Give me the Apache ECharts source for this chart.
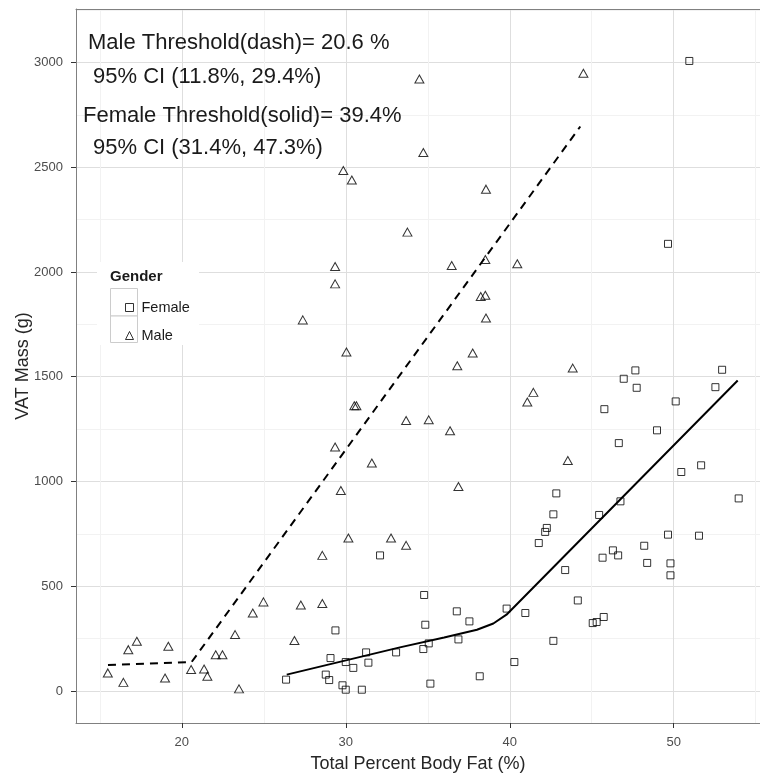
<!DOCTYPE html>
<html>
<head>
<meta charset="utf-8">
<script src="https://cdn.jsdelivr.net/npm/echarts@6.0.0/dist/echarts.min.js"></script>
<style>
  html, body { margin: 0; padding: 0; background: #fff; }
  #chart { width: 760px; height: 779px; }
</style>
</head>
<body>
<div id="chart"></div>
<script>
// body fat % vs VAT mass
const femalePoints = [
  [50.95, 3007], [49.65, 2134], [32.09, 647], [29.37, 289], [29.07, 157],
  [30.0, 138], [31.24, 184], [31.38, 135], [30.46, 110], [33.07, 184],
  [26.36, 54], [28.78, 78], [28.99, 52], [29.8, 27], [30.0, 6], [30.98, 6],
  [47.66, 1530], [52.95, 1533], [46.95, 1490], [47.74, 1447], [52.54, 1450],
  [50.12, 1382], [45.77, 1345], [48.98, 1244], [46.65, 1183], [51.67, 1077],
  [50.46, 1045], [53.96, 919], [42.84, 943], [46.75, 905], [42.66, 843],
  [45.45, 840], [42.26, 778], [42.16, 759], [41.77, 706], [49.65, 746],
  [51.54, 741], [48.2, 693], [46.29, 671], [46.61, 647], [45.66, 636],
  [48.38, 611], [49.8, 609], [49.8, 552], [43.38, 577], [34.78, 458],
  [44.15, 432], [39.81, 393], [36.77, 380], [40.95, 372], [37.54, 332],
  [34.85, 316], [45.73, 353], [45.3, 329], [45.06, 324], [36.87, 246],
  [35.06, 227], [34.73, 200], [42.66, 239], [40.28, 138], [38.17, 70],
  [35.16, 35]
];

const malePoints = [
  [34.49, 2921], [29.85, 2484], [30.37, 2439], [33.76, 2190], [29.35, 2026],
  [29.35, 1943], [27.38, 1771], [30.04, 1618], [34.73, 2570], [44.49, 2948],
  [38.55, 2395], [36.46, 2031], [38.51, 2059], [40.46, 2039], [38.23, 1883],
  [38.51, 1889], [38.55, 1780], [37.74, 1613], [30.52, 1361], [30.65, 1361],
  [33.68, 1291], [29.35, 1164], [31.59, 1088], [29.7, 957], [30.16, 730],
  [32.76, 730], [33.68, 695], [28.57, 647], [24.98, 425], [24.33, 372],
  [27.26, 410], [28.57, 417], [23.25, 269], [26.87, 241], [17.26, 237],
  [16.74, 197], [19.18, 213], [22.07, 173], [22.48, 173], [15.49, 86],
  [16.44, 41], [18.98, 62], [20.57, 102], [21.36, 105], [21.56, 70],
  [23.49, 10], [36.8, 1552], [43.84, 1541], [41.44, 1425], [41.07, 1379],
  [35.06, 1294], [36.36, 1242], [43.54, 1100], [36.87, 976]
];

// fitted threshold models
const maleFit = [[15.5, 124], [20.6, 138], [44.3, 2694]];
const femaleFit = [[26.4, 78], [33.3, 208], [36, 255], [38, 292], [39, 322], [39.8, 364], [53.9, 1482]];

const xTicks = [20, 30, 40, 50];
const xMinor = [15, 25, 35, 45, 55];
const yTicks = [0, 500, 1000, 1500, 2000, 2500, 3000];
const yMinor = [250, 750, 1250, 1750, 2250, 2750, 3250];

const notes = [
  'Male Threshold(dash)= 20.6 %',
  '95% CI (11.8%, 29.4%)',
  'Female Threshold(solid)= 39.4%',
  '95% CI (31.4%, 47.3%)'
];

const FONT = '"Liberation Sans", Arial, sans-serif';
const XMIN = 13.55, XMAX = 55.26, YMIN = -153, YMAX = 3255;

const hollow = { color: 'rgba(255,255,255,0)', borderColor: '#000', borderWidth: 1 };

const chart = echarts.init(document.getElementById('chart'), null, { renderer: 'canvas' });

const notePos = [[88, 43], [93, 77], [83, 116], [93, 148]];

chart.setOption({
  animation: false,
  textStyle: { fontFamily: FONT },
  grid: { left: 76, top: 9, right: 0, bottom: 56, containLabel: false, outerBoundsMode: 'none' },
  xAxis: [{
    type: 'value', min: XMIN, max: XMAX,
    name: 'Total Percent Body Fat (%)', nameLocation: 'middle', nameGap: 32,
    nameMoveOverlap: false,
    nameTextStyle: { fontSize: 18, color: '#262626', fontFamily: FONT },
    axisLine: { show: true, onZero: false, lineStyle: { color: '#808080', width: 1 } },
    axisTick: { show: true, length: 5, customValues: xTicks, lineStyle: { color: '#333' } },
    axisLabel: { customValues: xTicks, fontSize: 13, color: '#4d4d4d', margin: 13, fontFamily: FONT },
    splitLine: { show: true, lineStyle: { color: '#dedede', width: 1 } }
  }, {
    type: 'value', min: XMIN, max: XMAX, position: 'top',
    axisLine: { show: true, onZero: false, lineStyle: { color: '#808080', width: 1 } },
    axisTick: { show: false, customValues: xMinor },
    axisLabel: { show: false, customValues: xMinor },
    splitLine: { show: true, lineStyle: { color: '#f2f2f2', width: 1 } }
  }],
  yAxis: [{
    type: 'value', min: YMIN, max: YMAX,
    name: 'VAT Mass (g)', nameLocation: 'middle', nameGap: 44,
    nameMoveOverlap: false,
    nameTextStyle: { fontSize: 18, color: '#262626', fontFamily: FONT },
    axisLine: { show: true, onZero: false, lineStyle: { color: '#808080', width: 1 } },
    axisTick: { show: true, length: 5, customValues: yTicks, lineStyle: { color: '#333' } },
    axisLabel: {
      customValues: yTicks, fontSize: 13, color: '#4d4d4d', margin: 13, fontFamily: FONT,
      formatter: v => String(v)
    },
    splitLine: { show: true, lineStyle: { color: '#dedede', width: 1 } }
  }, {
    type: 'value', min: YMIN, max: YMAX, position: 'right',
    axisLine: { show: false },
    axisTick: { show: false, customValues: yMinor },
    axisLabel: { show: false, customValues: yMinor },
    splitLine: { show: true, lineStyle: { color: '#f2f2f2', width: 1 } }
  }],
  legend: {
    orient: 'vertical', left: 120, top: 295, z: 10,
    itemWidth: 8, itemHeight: 8, itemGap: 13,
    selectedMode: false,
    textStyle: { fontSize: 14.5, color: '#1a1a1a', fontFamily: FONT, padding: [0, 0, 0, 3] },
    data: [
      { name: 'Female', icon: 'rect', itemStyle: hollow },
      { name: 'Male', icon: 'triangle', itemStyle: hollow }
    ]
  },
  graphic: [
    { type: 'rect', z: 3, shape: { x: 97, y: 262, width: 102, height: 83 }, style: { fill: '#fff' } },
    { type: 'rect', z: 4, shape: { x: 110.5, y: 288.5, width: 27, height: 27.5 }, style: { fill: '#fff', stroke: '#cccccc', lineWidth: 1 } },
    { type: 'rect', z: 4, shape: { x: 110.5, y: 316, width: 27, height: 26.5 }, style: { fill: '#fff', stroke: '#cccccc', lineWidth: 1 } },
    { type: 'text', z: 10, x: 110, y: 277, style: { text: 'Gender', font: 'bold 15px ' + FONT, fill: '#1a1a1a', verticalAlign: 'middle' } }
  ].concat(notes.map((t, i) => ({
    type: 'text', z: 10, x: notePos[i][0], y: notePos[i][1],
    style: { text: t, font: '22px ' + FONT, fill: '#1a1a1a', verticalAlign: 'middle' }
  }))),
  series: [
    {
      name: 'Female', type: 'scatter', data: femalePoints,
      symbol: 'rect', symbolSize: 7, itemStyle: hollow, z: 3
    },
    {
      name: 'Male', type: 'scatter', data: malePoints,
      symbol: 'triangle', symbolSize: [9, 8], itemStyle: hollow, z: 3
    },
    {
      name: 'Male fit', type: 'line', data: maleFit, symbol: 'none', z: 4,
      lineStyle: { color: '#000', width: 2, type: [8, 6] }
    },
    {
      name: 'Female fit', type: 'line', data: femaleFit, symbol: 'none', z: 4,
      lineStyle: { color: '#000', width: 2 }
    }
  ]
});
</script>
</body>
</html>
